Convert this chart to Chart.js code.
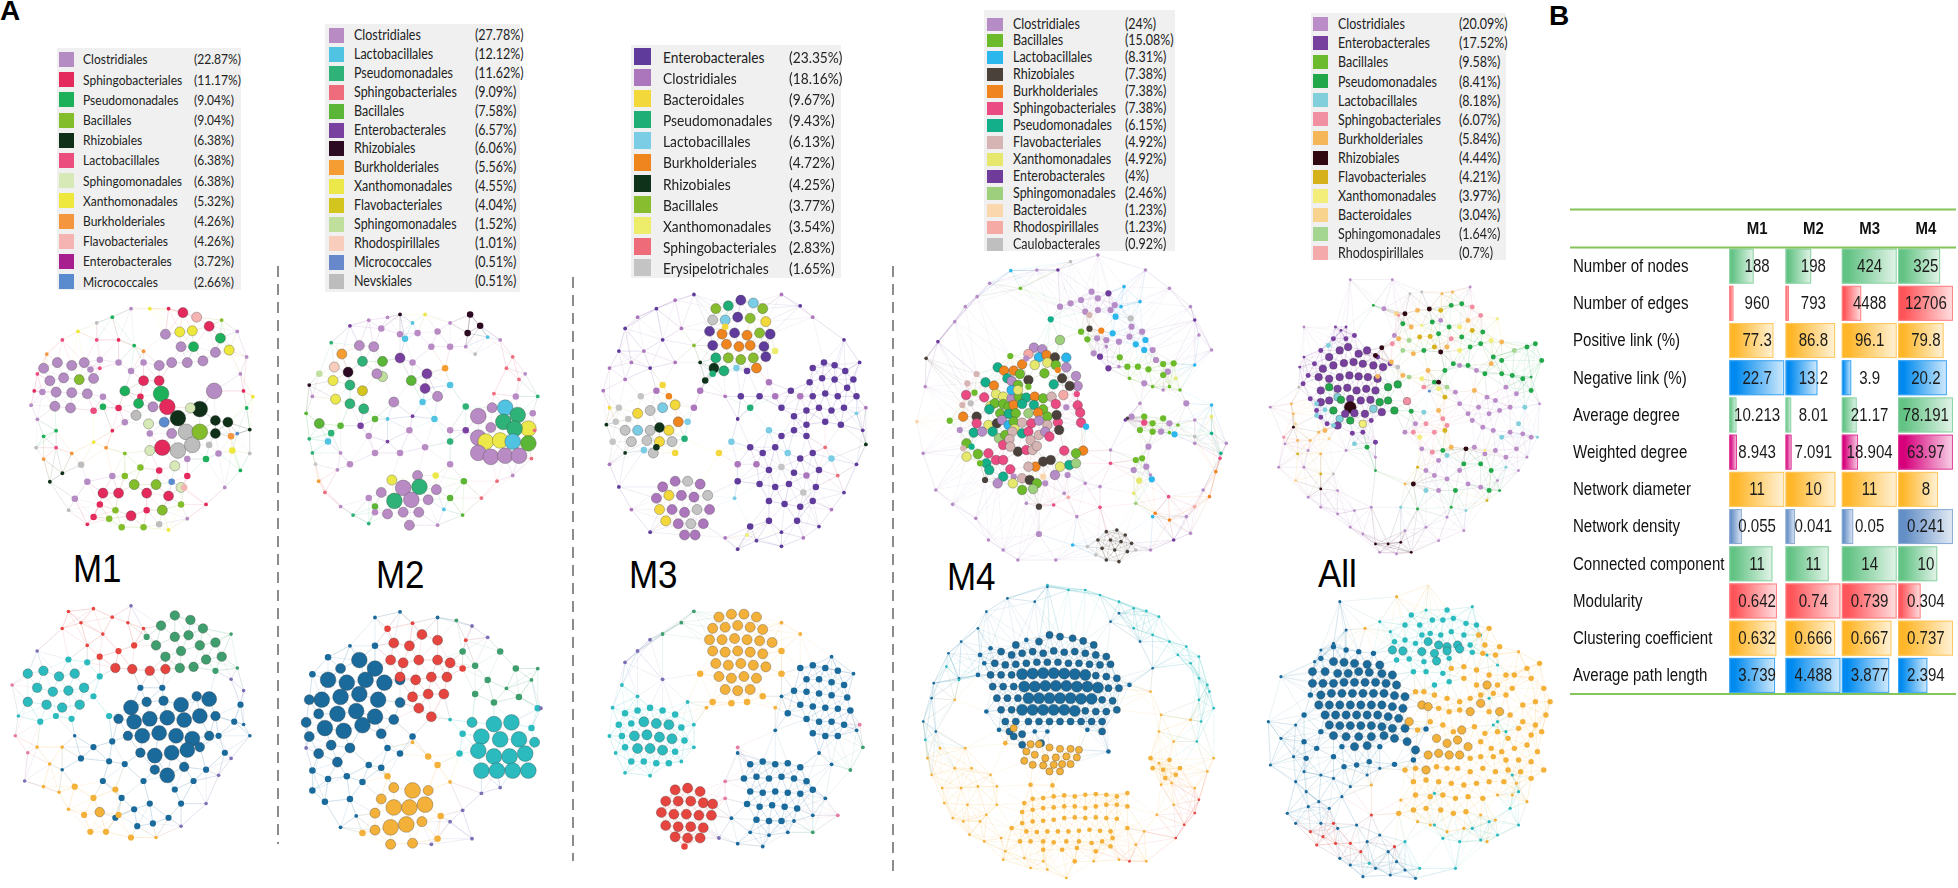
<!DOCTYPE html>
<html><head><meta charset="utf-8">
<script src="https://cdn.jsdelivr.net/npm/chart.js@4.4.1/dist/chart.umd.min.js"></script>
<style>
html,body{margin:0;padding:0;background:#fff;width:1958px;height:888px;overflow:hidden;position:relative;font-family:Lato,"Noto Sans",sans-serif;}
canvas{position:absolute;}
.lg{position:absolute;background:#F0F0F0;}
.sw{position:absolute;}
.tx{position:absolute;white-space:nowrap;color:#222;transform-origin:0 50%;transform:scaleX(0.86);}
.panel{position:absolute;font-family:"Liberation Sans",Arial,sans-serif;font-weight:bold;color:#000;font-size:28px;line-height:28px;}
.nlab{position:absolute;font-family:"Liberation Sans",Arial,sans-serif;color:#000;font-size:38px;line-height:38px;transform-origin:0 0;transform:scaleX(0.92);white-space:nowrap;}
.sep{position:absolute;width:1.5px;background:repeating-linear-gradient(to bottom,#8c8c8c 0 11px,transparent 11px 18px);}
</style></head><body>
<div class="panel" style="left:0px;top:-3px;">A</div>
<div class="panel" style="left:1549px;top:2px;">B</div>
<div class="sep" style="left:277px;top:266px;height:578px;"></div>
<div class="sep" style="left:572px;top:277px;height:584px;"></div>
<div class="sep" style="left:892px;top:266px;height:606px;"></div>
<div class="nlab" style="left:73px;top:550px;">M1</div>
<div class="nlab" style="left:376px;top:556px;">M2</div>
<div class="nlab" style="left:629px;top:556px;">M3</div>
<div class="nlab" style="left:947px;top:558px;">M4</div>
<div class="nlab" style="left:1318px;top:555px;">All</div>
<script>
// ---------------- DATA ----------------
const m1LegendNames=['Clostridiales','Sphingobacteriales','Pseudomonadales','Bacillales','Rhizobiales','Lactobacillales','Sphingomonadales','Xanthomonadales','Burkholderiales','Flavobacteriales','Enterobacterales','Micrococcales'];
const m1LegendPct=[22.87,11.17,9.04,9.04,6.38,6.38,6.38,5.32,4.26,4.26,3.72,2.66];
const m1LegendKeys=['C','S','P','B','R','L','M','X','K','F','E','I'];
const m2LegendNames=['Clostridiales','Lactobacillales','Pseudomonadales','Sphingobacteriales','Bacillales','Enterobacterales','Rhizobiales','Burkholderiales','Xanthomonadales','Flavobacteriales','Sphingomonadales','Rhodospirillales','Micrococcales','Nevskiales'];
const m2LegendPct=[27.78,12.12,11.62,9.09,7.58,6.57,6.06,5.56,4.55,4.04,1.52,1.01,0.51,0.51];
const m2LegendKeys=['C','L','P','S','B','E','R','K','X','F','M','H','I','N'];
const m3LegendNames=['Enterobacterales','Clostridiales','Bacteroidales','Pseudomonadales','Lactobacillales','Burkholderiales','Rhizobiales','Bacillales','Xanthomonadales','Sphingobacteriales','Erysipelotrichales'];
const m3LegendPct=[23.35,18.16,9.67,9.43,6.13,4.72,4.25,3.77,3.54,2.83,1.65];
const m3LegendKeys=['E','C','D','P','L','K','R','B','X','S','Y'];
const m4LegendNames=['Clostridiales','Bacillales','Lactobacillales','Rhizobiales','Burkholderiales','Sphingobacteriales','Pseudomonadales','Flavobacteriales','Xanthomonadales','Enterobacterales','Sphingomonadales','Bacteroidales','Rhodospirillales','Caulobacterales'];
const m4LegendPct=[24,15.08,8.31,7.38,7.38,7.38,6.15,4.92,4.92,4,2.46,1.23,1.23,0.92];
const m4LegendKeys=['C','B','L','R','K','S','P','F','X','E','M','D','H','G'];
const allLegendNames=['Clostridiales','Enterobacterales','Bacillales','Pseudomonadales','Lactobacillales','Sphingobacteriales','Burkholderiales','Rhizobiales','Flavobacteriales','Xanthomonadales','Bacteroidales','Sphingomonadales','Rhodospirillales'];
const allLegendPct=[20.09,17.52,9.58,8.41,8.18,6.07,5.84,4.44,4.21,3.97,3.04,1.64,0.7];
const allLegendKeys=['C','E','B','P','L','S','K','R','F','X','D','M','H'];

const metricNames=['Number of nodes','Number of edges','Positive link (%)','Negative link (%)','Average degree','Weighted degree','Network diameter','Network density','Connected component','Modularity','Clustering coefficient','Average path length'];
const tableCols=['M1','M2','M3','M4'];
const m1Metrics=[188,960,77.3,22.7,10.213,8.943,11,0.055,11,0.642,0.632,3.739];
const m2Metrics=[198,793,86.8,13.2,8.01,7.091,10,0.041,11,0.74,0.666,4.488];
const m3Metrics=[424,4488,96.1,3.9,21.17,18.904,11,0.05,14,0.739,0.667,3.877];
const m4Metrics=[325,12706,79.8,20.2,78.191,63.97,8,0.241,10,0.304,0.737,2.394];

// Network nodes: [group key, layout x, layout y, degree class]
const m1TopNodes=[
['S',293,552,3],['F',315,560,3],['S',335,576,3],['X',308,584,3],['X',288,586,3],['C',265,590,3],['P',310,612,3],['C',290,612,3],['P',353,597,3],['C',345,622,3],['X',367,618,3],['C',325,637,3],['C',300,640,3],['C',275,640,3],['C',255,645,3],['C',230,640,2],['C',210,655,2],['C',190,640,2],['S',230,672,3],['S',255,672,3],['P',200,690,3],
['C',70,650,3],['C',92,640,3],['C',115,645,3],['C',135,640,3],['C',80,672,3],['C',102,667,3],['B',127,670,3],['C',150,668,3],['C',90,692,3],['C',115,693,3],['C',140,695,3],['C',88,717,3],['C',113,720,3],['C',68,692,2],['C',165,700,2],['C',145,652,2],['C',160,635,2],
['C',343,690,4],['P',258,695,4],['C',245,718,3],['S',268,718,4],['R',285,738,4],['R',320,722,4],['M',305,720,3],['M',238,748,3],['I',263,745,3],['G',218,733,3],['G',298,762,4],['G',285,795,4],['G',308,785,4],['C',275,765,3],['S',260,790,4],['M',240,795,3],['R',345,742,3],['R',365,745,3],['R',345,765,3],['B',320,762,4],['C',240,765,2],['S',225,700,2],['P',222,712,3],['S',190,720,2],['P',165,718,2],['L',150,725,2],['C',200,745,2],['M',280,822,3],['C',300,810,2],['P',330,810,2],['C',350,800,2],['S',300,840,2],['X',372,795,2],['G',335,785,2],['K',370,770,2],['I',380,765,1],['R',400,758,1],['P',395,720,1],['S',390,690,1],['C',385,660,1],
['S',165,870,3],['S',190,870,3],['B',215,855,3],['S',235,870,3],['B',250,855,3],['S',270,875,3],['B',290,890,2],['B',260,900,3],['S',235,900,2],['S',210,910,3],['B',185,900,2],['S',160,890,2],['S',150,912,2],['B',175,915,2],['B',230,930,2],['G',255,925,2],['B',195,930,2],['C',120,880,2],['C',140,850,2],['B',200,840,2],['M',290,860,3],['I',275,850,2],['F',295,860,2],['S',255,830,2],['B',225,825,2],['C',180,840,2],['G',130,820,2],
['K',115,800,1],['L',90,790,1],['P',70,770,1],['C',60,740,1],['C',50,715,1],['S',55,690,1],['L',60,660,1],['K',75,625,1],['L',100,600,1],['X',125,585,1],['G',155,570,1],['P',180,560,1],['C',210,545,1],['X',240,545,1],['S',270,545,1],['B',355,565,1],['C',380,585,1],['C',395,630,1],['X',405,700,1],['G',400,800,1],['P',385,830,1],['C',360,860,1],['S',330,890,1],['C',300,915,1],['X',270,935,1],['S',140,925,1],['G',110,900,1],['R',80,850,1],['K',70,810,1],['G',58,790,1],['S',180,760,1],['K',170,790,1],['X',150,780,1],['B',200,800,1],['L',160,650,1],['S',190,600,1],['P',215,610,1],['K',230,620,1],['L',155,600,1],['R',100,835,1],['P',90,760,1]
];
const m2TopNodes=[
['K',547,625,3],['H',535,648,3],['R',557,657,3],['X',533,672,3],['M',511,660,2],['P',560,680,3],['F',580,690,3],['P',580,638,3],['B',612,638,3],['M',612,665,3],['X',537,705,3],['P',560,713,3],['P',582,722,3],['B',511,748,3],['P',530,765,2],['C',575,610,3],['C',598,612,3],['C',603,660,3],['E',640,632,3],['E',683,660,3],['C',660,640,2],['B',658,672,3],['E',680,686,3],['C',700,700,3],['C',630,710,3],['K',712,650,2],['C',690,612,2],['C',668,588,2],['C',640,590,2],['L',648,598,2],['C',610,580,2],['C',700,585,2],['C',720,612,2],['R',640,555,1],['R',752,555,2],['R',768,575,2],['R',748,588,2],['N',760,625,1],['C',745,612,1],['B',600,740,2],['E',577,752,2],['B',545,752,2],['L',676,710,2],['L',695,740,2],
['C',765,735,4],['C',787,720,3],['L',808,720,4],['P',828,733,4],['P',805,745,4],['C',785,755,3],['X',845,757,4],['P',823,757,4],['C',765,773,4],['X',777,780,4],['X',800,778,4],['L',820,780,4],['B',845,783,4],['C',765,800,4],['C',785,807,4],['C',808,805,4],['C',830,805,4],['C',825,700,2],['C',852,730,2],['P',745,718,2],['S',790,695,1],['S',830,670,1],['S',810,650,1],
['X',627,848,3],['C',645,862,4],['C',668,840,3],['P',671,860,4],['C',610,870,3],['C',630,883,3],['P',631,885,4],['C',658,883,4],['C',685,883,3],['C',620,908,3],['C',645,905,3],['C',670,905,3],['C',698,865,3],['C',590,880,2],['B',600,895,2],['C',655,928,3],['C',600,905,2],['X',697,840,2],['B',720,880,2],['B',742,850,2],['C',720,820,2],['L',710,900,1],
['C',560,820,2],['C',545,800,1],['L',525,780,2],['C',600,800,2],['C',640,800,2],['C',680,790,2],['P',720,780,2],['E',745,760,2],['C',720,760,2],['C',655,760,2],['E',620,780,1],['C',590,770,2],['C',540,830,1],['P',500,800,1],['G',505,820,1],['K',510,850,1],['S',520,870,1],['C',545,895,1],['P',565,910,1],['P',590,925,1],['C',700,928,1],['B',740,910,1],['S',770,880,1],['S',795,850,1],['C',820,840,1],['S',850,810,1],['S',855,760,1],['P',860,700,1],['C',840,660,1],['S',820,630,1],['C',800,600,1],['L',780,595,1],['C',720,570,1],['X',680,555,1],['L',660,570,1],['C',620,560,1],['C',590,565,1],['E',560,575,1],['P',530,605,1],['R',495,680,1],['C',500,700,1],['B',490,730,1],['P',495,775,1],['L',720,680,2],['L',620,740,1],['E',660,735,1]
];
const m3TopNodes=[
['B',1145,545,3],['P',1165,540,3],['E',1185,530,3],['L',1205,535,3],['B',1220,545,3],['Y',1140,565,3],['L',1160,565,3],['E',1180,560,3],['B',1200,562,3],['D',1225,568,3],['E',1135,585,3],['K',1155,590,3],['E',1175,588,3],['K',1195,592,3],['B',1215,588,3],['E',1232,590,3],['E',1140,610,3],['K',1162,608,3],['K',1182,612,3],['K',1200,610,3],['E',1222,612,3],['P',1145,632,3],['B',1165,632,3],['B',1185,635,3],['B',1205,632,3],['E',1225,630,3],['R',1142,650,3],['P',1158,655,3],['K',1210,650,3],['E',1195,655,2],['L',1178,650,2],['D',1160,577,2],['X',1240,620,2],
['E',1300,650,2],['E',1318,640,2],['E',1335,645,2],['E',1352,655,2],['E',1365,670,2],['E',1295,675,2],['E',1315,668,2],['E',1335,670,2],['E',1355,685,2],['E',1370,700,2],['E',1300,700,2],['E',1320,695,2],['E',1340,700,2],['E',1310,720,2],['E',1330,725,2],['E',1350,720,2],['E',1290,725,2],['C',1280,700,2],['E',1320,745,2],['E',1345,750,2],['E',1290,750,2],['L',1370,730,1],
['E',1200,790,2],['E',1220,800,2],['E',1240,790,2],['L',1260,800,2],['E',1280,810,2],['E',1300,800,2],['C',1210,820,2],['E',1230,830,2],['Y',1250,825,2],['E',1270,835,2],['C',1290,840,2],['E',1310,830,2],['E',1215,855,2],['E',1240,860,2],['E',1262,855,2],['Y',1285,870,2],['E',1305,860,2],['E',1230,885,2],['E',1255,890,2],['E',1280,895,2],['E',1300,885,2],['L',1330,810,2],['S',1320,790,1],['E',1200,930,2],['E',1230,920,2],['E',1250,940,1],['E',1210,955,1],['X',1195,945,1],['E',1275,920,2],['L',1175,880,1],['E',1180,850,2],['C',1180,820,2],['L',1230,760,2],['E',1250,770,2],['E',1270,760,2],['E',1290,770,2],['S',1340,840,1],
['C',1240,700,2],['E',1250,720,2],['E',1265,690,2],['C',1230,675,2],['E',1270,735,2],['P',1200,720,2],['E',1215,700,2],['E',1185,700,2],['L',1170,780,2],['D',1150,800,2],['C',1120,690,2],['C',1110,720,2],['P',1140,660,2],['R',1128,672,2],
['Y',990,720,2],['Y',1005,740,2],['D',1020,730,3],['Y',1040,725,3],['L',1060,720,3],['D',1080,715,3],['K',1070,700,2],['Y',1000,760,3],['L',1020,760,3],['Y',1040,760,3],['R',1055,755,3],['D',1070,760,3],['K',1085,745,3],['Y',1010,780,3],['Y',1035,778,3],['D',1055,780,3],['Y',1075,780,3],['Y',1045,800,3],['L',1030,795,2],['R',1050,790,2],['D',1080,800,2],['P',1095,775,2],['L',1100,745,2],['Y',1025,700,2],['C',1050,690,2],['D',1060,680,2],['Y',985,745,2],['R',970,750,1],['Y',980,780,2],['D',975,720,1],['R',1000,800,1],
['C',1060,860,3],['C',1080,850,3],['Y',1100,850,3],['C',1120,855,3],['C',1050,880,3],['D',1070,875,3],['C',1090,875,3],['C',1110,878,3],['Y',1132,875,3],['D',1055,900,3],['C',1075,900,3],['C',1095,905,3],['Y',1115,900,3],['C',1135,900,3],['D',1065,920,3],['C',1085,925,3],['Y',1105,925,3],['C',1125,925,3],['C',1095,945,3],['C',1112,945,3],
['E',1000,580,1],['C',1020,560,1],['E',1050,545,1],['C',1080,530,1],['E',1110,520,1],['C',1250,520,1],['E',1280,540,1],['C',1300,560,1],['E',1350,600,1],['E',1375,640,1],['C',1385,720,1],['E',1380,760,1],['R',1385,785,1],['E',1370,820,1],['E',1350,870,1],['C',1330,900,1],['E',1310,930,1],['C',1285,950,1],['E',1250,965,1],['E',1180,970,1],['C',1160,950,1],['E',1040,940,1],['C',1010,900,1],['E',990,860,1],['C',975,820,1],['C',965,690,1],['C',975,650,1],['E',990,620,1],['C',1010,640,1],['C',1030,620,1],['E',1060,600,1],['C',1090,580,1],['B',1110,610,1],['C',1000,670,1],['E',1040,650,1],['C',1080,640,1],['R',1120,640,1],['C',1160,700,1],['E',1180,740,1]
];
const m4TopNodes=[
['C',318,293,3],['C',338,298,3],['H',305,312,3],['L',330,322,3],['K',348,315,3],['R',368,322,3],['L',395,323,3],['K',290,343,3],['X',320,345,3],['X',350,338,3],['B',370,345,3],['M',380,270,3],['B',262,318,2],['P',232,352,3],['K',247,362,3],['K',270,362,3],['P',255,385,3],['B',285,372,3],['B',343,370,3],['K',375,360,2],['R',385,385,3],['C',395,352,3],['C',418,378,3],['C',422,408,3],['R',403,408,3],['P',365,403,3],['H',388,435,3],['R',305,390,3],['B',305,410,2],
['F',182,372,2],['P',203,397,3],['K',223,407,3],['C',265,393,3],['B',280,405,3],['F',160,400,2],['B',177,428,2],['X',228,432,3],['S',157,435,3],['F',148,465,2],['K',150,500,3],['S',200,442,3],['X',245,440,3],['C',265,445,3],['B',282,440,3],['L',265,420,3],['X',280,420,3],['P',300,443,3],['K',320,440,3],['B',340,445,3],['F',360,440,3],['X',215,468,3],['B',225,460,3],['P',212,478,3],['B',245,462,3],['B',258,470,3],['K',270,465,3],['P',290,462,3],['P',318,465,3],['B',340,478,3],['B',350,500,3],['S',370,462,3],['K',328,488,3],['R',182,500,3],['B',238,490,3],['P',258,492,3],['B',275,490,3],['M',305,490,3],['X',210,525,3],['R',230,520,3],['C',242,510,3],['P',220,545,3],['L',258,525,3],['B',270,515,3],['X',272,537,3],['F',290,518,3],['S',312,520,3],['C',330,512,3],['F',350,525,3],['S',375,517,3],['R',378,540,3],['R',372,495,3],['P',175,548,3],['S',182,520,3],['C',195,545,3],['M',235,565,3],['B',250,555,3],['F',267,545,3],['S',245,585,3],['F',260,568,3],['P',290,550,3],['S',305,545,3],['F',310,570,3],['F',330,555,3],['C',345,545,3],['S',355,560,3],['R',280,605,3],['S',300,600,3],['F',315,600,3],['F',325,588,3],['X',158,620,3],['B',185,612,3],['S',210,610,3],['S',228,630,3],['S',245,630,3],['F',262,590,3],['P',205,640,3],['B',190,640,2],['P',212,660,3],['S',262,658,3],['P',245,680,3],['C',270,680,2],['F',290,685,3],['R',308,690,3],['B',325,700,3],['C',345,700,2],['D',340,680,2],['K',322,650,3],['F',305,650,3],['R',340,635,3],['R',358,630,3],['S',390,602,3],['K',435,602,3],['B',418,610,3],['P',402,645,3],['M',418,640,3],['X',380,650,3],['C',398,675,2],['C',368,675,3],['X',268,700,3],['M',316,717,3],['B',290,720,3],['C',232,700,3],['R',202,690,2],['B',158,580,3],['F',150,595,2],['P',170,590,2],['B',118,512,2],['G',168,460,2],['C',142,540,2],['S',420,432,2],['S',430,518,3],['L',442,530,2],['S',422,466,3],['S',428,488,3],['C',395,472,2],['C',300,325,2],
['C',380,170,2],['C',405,160,2],['C',430,150,2],['C',455,125,2],['C',470,145,2],['E',495,130,2],['C',510,165,2],['L',525,170,1],['L',532,110,1],['L',570,155,1],['C',440,185,2],['C',470,180,2],['C',500,180,2],['F',450,195,2],['L',512,200,2],['G',548,205,2],['C',550,230,2],['C',575,245,2],['P',358,208,2],['B',430,245,2],['R',450,236,2],['K',478,242,2],['C',468,265,2],['C',490,270,2],['L',505,250,2],['C',520,275,2],['C',545,260,2],['L',560,283,2],['L',583,270,2],['C',600,300,2],['L',580,300,2],['C',460,310,2],['B',445,268,2],['C',490,290,1],['E',475,320,2],['B',522,322,2],['B',540,350,2],['B',565,350,2],['B',590,358,2],['C',608,330,2],['B',625,342,2],['B',650,340,2],['C',636,365,2],['B',625,375,2],['C',520,350,1],['E',495,355,2],['B',545,385,1],['C',580,400,2],['B',600,410,1],['C',625,420,1],['B',640,410,1],['B',665,420,1],['C',570,460,1],['B',580,500,2],['B',600,520,2],['B',625,505,2],['B',600,545,2],['C',620,545,2],['B',640,548,1],['L',652,553,2],['B',660,525,1],['C',680,460,2],['X',655,385,1],['C',550,500,2],['S',580,518,2],['B',570,540,2],['C',590,590,2],['B',560,630,2],['C',585,650,2],['B',575,625,2],['C',555,660,2],['C',595,675,1],['L',598,688,2],['X',568,692,2],['C',640,520,2],['R',540,505,1],['C',700,510,1],['C',700,580,1],['L',740,465,1],['C',740,300,1],['C',710,255,1],['E',700,210,1],['C',640,115,1],['C',583,60,1],['C',690,170,1],['L',700,345,1],['X',740,500,1],
['R',490,845,1],['R',515,840,1],['R',535,855,1],['R',470,870,1],['R',500,870,1],['R',525,875,1],['R',550,880,1],['R',480,895,1],['R',510,900,1],['R',540,905,1],['G',560,900,1],['R',490,930,1],['R',520,935,1],['G',465,915,1],['G',445,890,1],
['C',325,60,1],['G',405,35,1],['C',470,15,1],['L',263,62,1],['E',375,60,1],['C',213,100,1],['C',183,140,1],['B',286,115,1],['C',155,170,1],['C',130,215,1],['E',90,275,1],['R',62,325,1],['C',60,410,1],['D',40,515,1],['C',55,610,1],['C',85,720,1],['C',125,763,1],['C',180,805,1],['C',210,870,1],['C',245,900,1],['C',280,930,1],['C',330,852,2],['R',330,770,2],['S',365,765,1],['C',390,730,1],['H',400,742,1],['S',475,772,1],['C',420,800,1],['C',300,760,1],['L',410,885,1],['C',370,930,1],['C',595,900,1],['E',650,870,1],['C',690,850,1],['K',640,810,1],['C',680,800,1],['K',735,740,1],['H',700,770,1],['K',750,665,1],['C',720,720,1],['L',600,800,1],['M',560,760,1],['S',638,740,1],['X',555,730,1],['K',606,790,1],['P',740,550,1],['S',760,625,1],['C',775,580,1],['G',700,560,1],['P',762,610,1],['C',440,700,1],['C',475,710,1],['S',500,640,1],['C',500,600,1],['E',535,510,1]
];
const allTopNodes=[
['E',1030,265,2],['E',1048,240,1],['E',1060,265,2],['E',1080,255,2],['L',1018,285,2],['E',1000,300,2],['E',1020,320,3],['E',1045,300,3],['E',1065,290,3],['E',1090,310,3],['E',1110,300,3],['E',1135,320,2],['R',1145,292,2],['R',1130,315,2],['E',985,340,2],['E',1005,355,3],['E',1030,345,3],['E',1055,338,3],['E',1078,335,3],['E',1100,340,3],['E',1125,345,3],['E',1148,350,3],['E',1165,340,2],['K',1168,335,2],['E',970,375,2],['E',995,380,3],['E',1020,385,3],['E',1045,380,3],['E',1068,375,3],['E',1090,378,3],['E',1112,380,3],['E',1135,385,3],['K',1135,378,2],['P',1160,410,3],['P',1183,402,3],['P',1020,410,3],['E',1000,420,3],['E',1040,415,3],['E',1063,412,3],['E',1085,420,3],['E',1108,415,3],['E',1130,420,3],['L',1040,440,3],['E',975,445,2],['E',1000,455,3],['E',1020,450,3],['P',1048,448,3],['E',1070,445,3],['E',1095,450,3],['E',1118,448,3],['P',1140,455,3],['P',1160,450,3],['P',1175,480,3],['S',1205,452,3],['P',1215,482,2],['R',1070,470,4],['E',990,480,2],['L',1010,478,2],['P',1030,480,3],['L',1045,505,3],['E',1058,490,3],['E',1080,488,3],['E',1105,490,3],['L',1125,475,3],['E',1145,485,3],['P',1070,510,3],['E',1040,525,3],['X',1100,520,3],['E',1015,520,2],['E',1120,510,2],['E',1100,545,2],['E',1075,548,2],['E',1000,500,2],['E',960,320,1],['E',950,350,1],['E',958,400,2],['L',990,495,2],['L',1030,525,2],['E',1130,575,2],['L',1080,580,2],['P',1110,590,2],['E',1060,230,1],['E',1035,230,1],
['P',1125,165,1],['C',1150,175,2],['D',1180,190,2],['R',1200,190,2],['K',1230,180,2],['R',1258,176,2],['F',1285,180,2],['P',1310,165,2],['P',1335,160,2],['S',1360,170,2],['G',1212,130,1],['G',1240,125,1],['K',1288,130,1],['K',1313,125,1],['P',1195,220,2],['S',1185,195,1],['K',1215,230,2],['X',1240,225,1],['P',1265,215,2],['C',1285,210,2],['P',1305,230,2],['X',1330,230,2],['K',1350,210,2],['S',1380,195,2],['X',1420,205,1],['C',1175,255,2],['S',1170,280,2],['K',1185,265,2],['M',1210,270,2],['F',1235,260,2],['F',1260,258,2],['P',1280,250,2],['S',1310,265,2],['P',1335,260,2],['F',1360,240,2],['P',1385,245,2],['X',1405,270,2],['K',1430,275,2],['M',1195,300,2],['K',1220,310,2],['P',1245,300,2],['F',1270,290,2],['R',1285,305,2],['K',1300,290,2],['X',1330,300,2],['P',1355,290,2],['P',1380,280,2],['P',1410,320,2],['P',1430,330,2],['M',1460,300,2],['P',1490,290,2],['P',1510,280,2],['P',1525,330,2],['G',1183,350,2],['K',1195,375,2],['M',1210,380,2],['X',1240,385,2],['K',1255,360,2],['P',1270,395,2],['R',1280,395,2],['P',1295,360,2],['P',1315,340,2],['C',1330,345,2],['P',1350,345,2],['C',1370,360,2],['P',1390,370,2],['K',1405,340,2],['P',1430,370,2],['P',1455,375,2],['P',1480,385,2],['P',1500,380,1],['I',1258,422,1],['S',1245,410,2],['X',1280,415,2],['M',1300,410,2],['F',1295,440,2],['C',1320,425,2],['K',1365,420,2],['C',1395,440,2],['C',1415,450,2],['C',1440,410,2],['C',1465,430,2],['L',1485,470,2],['P',1500,420,2],['C',1520,460,1],['L',1245,485,2],['K',1280,480,2],['S',1290,505,2],['S',1250,520,2],['S',1270,545,2],['F',1295,540,2],['S',1300,525,2],['C',1225,520,2],['C',1200,545,2],['S',1220,545,2],['X',1235,560,2],['C',1330,460,2],['C',1350,490,2],['C',1375,470,2],['C',1400,490,2],['C',1425,480,2],['C',1450,470,2],['L',1470,520,2],['C',1360,510,2],['C',1385,530,2],['C',1410,540,2],['L',1430,560,2],['C',1450,545,2],['C',1480,550,2],['C',1500,560,2],['L',1515,560,1],['C',1240,595,2],['S',1265,605,2],['P',1290,600,2],['K',1310,590,2],['R',1345,595,2],['C',1365,590,2],['C',1390,610,2],['C',1415,600,2],['C',1440,620,2],['C',1465,595,2],['P',1340,640,2],['P',1380,640,2],['P',1405,660,2],['C',1280,630,2],['L',1300,615,2],['F',1230,650,1],['C',1250,660,2],['C',1270,675,2],['C',1300,685,2],['C',1330,660,2],['C',1350,700,2],['C',1280,720,2],['L',1250,720,2],['P',1320,720,2],['C',1380,710,2],['P',1400,720,2],['R',1220,700,2],['K',1200,700,1],['P',1230,775,1],['L',1190,770,1],['P',1310,770,1],['L',1345,780,1],['C',1420,690,1],['L',1440,650,1],['C',1470,660,1],['C',1490,620,1],['F',1395,750,1],['P',1425,720,1],
['K',935,490,1],['K',930,460,1],['D',940,520,1],['R',935,530,1],['S',912,560,1],['K',945,570,1],['F',945,610,1],['K',975,570,1],['C',970,600,1],['K',995,545,1],['D',1020,565,1],['G',1030,670,1],['K',1000,610,1],['C',1060,600,1],['F',1000,670,1],['D',940,690,1],['R',1000,715,1],['C',1040,720,1],['C',970,740,1],['C',1000,770,1],['C',1040,790,1],['C',1080,780,1],['C',1120,770,1],['C',1070,830,1],['R',1130,880,1],['R',1160,880,1],['R',1190,875,1],['R',1215,905,1],['C',1140,905,1],['C',1180,910,1],['C',1100,850,1],['C',960,650,1],['C',880,470,1],['C',900,650,1],['C',915,580,1],['C',960,230,1],['G',948,410,1],['L',990,460,2],['K',1010,540,2],['P',1130,660,1],['C',1130,620,1],['C',1070,88,1],['C',1170,88,1],['C',1355,110,1],['X',1390,600,1],['C',1300,800,1],['C',1340,840,1],['C',1250,830,1],['C',1280,870,1],['C',1200,840,1]
];
const m1BotNodes=[
['N',280,1087,3],['N',305,1095,3],['N',258,1105,3],['N',325,1110,3],['N',280,1125,3],['N',302,1122,3],['N',345,1135,3],['N',320,1140,3],['N',250,1140,3],['N',290,1150,3],['N',355,1160,3],['N',330,1165,3],['N',310,1178,3],['N',288,1180,3],['N',265,1160,3],['N',345,1185,2],['N',235,1125,2],
['D',185,1180,3],['D',212,1182,3],['D',240,1185,3],['D',265,1182,3],['D',190,1150,2],['D',215,1140,2],['D',160,1160,2],['D',230,1110,1],['D',205,1100,1],['D',180,1090,1],['D',165,1120,1],['D',130,1100,1],['D',140,1140,1],
['T',45,1190,3],['T',70,1185,3],['T',95,1195,3],['T',120,1190,3],['T',60,1215,3],['T',85,1222,3],['T',110,1220,3],['T',135,1215,3],['T',45,1240,3],['T',75,1245,3],['T',100,1250,3],['T',128,1245,3],['T',90,1265,2],['T',115,1270,2],['T',150,1230,2],['T',160,1195,2],['T',110,1165,2],['T',140,1170,2],['T',30,1265,1],['T',65,1275,2],['T',175,1265,2],
['U',210,1250,4],['U',235,1240,3],['U',262,1238,3],['U',290,1245,4],['U',315,1230,3],['U',335,1235,4],['U',190,1270,3],['U',215,1275,4],['U',240,1270,4],['U',268,1268,4],['U',295,1272,4],['U',320,1265,4],['U',345,1265,3],['U',205,1300,3],['U',228,1300,4],['U',255,1295,4],['U',282,1300,4],['U',308,1305,4],['U',335,1300,3],['U',225,1330,3],['U',248,1335,4],['U',275,1330,4],['U',300,1325,4],['U',320,1320,3],['U',248,1360,3],['U',268,1370,4],['U',295,1355,3],['U',350,1300,2],['U',360,1330,2],['U',375,1275,2],['U',385,1245,2],['U',260,1215,2],['U',225,1215,2],['U',180,1310,2],['U',200,1350,2],['U',230,1380,2],['U',280,1395,2],['U',310,1380,2],['U',330,1360,2],['U',175,1345,2],['U',150,1320,2],['U',130,1340,2],['U',165,1380,2],['U',195,1410,2],['U',215,1430,2],['U',240,1420,2],['U',220,1460,2],['U',245,1455,2],['U',270,1445,2],['U',290,1420,2],['U',185,1445,2],['U',120,1300,1],['U',100,1360,1],['U',390,1280,1],['U',400,1300,1],
['O',120,1390,2],['O',150,1410,2],['O',185,1395,2],['O',160,1435,3],['O',135,1440,2],['O',190,1440,2],['O',170,1470,2],['O',145,1470,2],['O',210,1480,2],['O',110,1430,1],['O',95,1400,1],['O',80,1350,1],['O',100,1320,1],['O',60,1320,1],['O',70,1390,1],
['V',370,1340,1],['V',350,1370,1],['V',390,1220,1],['V',370,1200,1],['W',20,1210,1],['W',25,1300,1],['W',45,1330,1],['V',40,1380,1],['N',380,1180,1],['N',370,1120,1],['D',100,1110,1],['V',330,1420,1],['V',290,1460,1],['O',250,1480,1],['V',60,1150,1],['D',110,1080,1],['D',150,1075,1],['V',210,1070,1]
];
const m2BotNodes=[
['U',575,1165,4],['U',545,1180,3],['U',600,1180,4],['U',525,1200,4],['U',555,1205,4],['U',585,1200,4],['U',615,1205,4],['U',640,1200,3],['U',515,1235,4],['U',545,1230,4],['U',575,1225,4],['U',605,1235,4],['U',510,1260,3],['U',540,1260,4],['U',570,1255,4],['U',600,1265,4],['U',520,1285,4],['U',550,1290,4],['U',580,1280,4],['U',610,1295,3],['U',530,1315,3],['U',560,1320,3],['U',495,1300,3],['U',510,1330,3],['U',540,1345,3],['U',490,1275,3],['U',495,1235,3],['U',640,1240,3],['U',630,1270,3],['U',620,1320,2],['U',500,1360,2],['U',525,1375,2],['U',555,1370,2],['U',580,1380,2],['U',610,1355,2],['U',500,1395,2],['U',520,1415,2],['U',560,1410,2],['U',590,1350,2],['U',640,1330,2],['U',660,1300,2],['U',500,1190,2],['U',525,1160,2],['U',600,1140,2],['U',560,1140,1],
['D',630,1135,3],['D',655,1140,3],['D',675,1120,3],['D',700,1130,3],['D',625,1165,3],['D',645,1170,3],['D',670,1165,3],['D',700,1165,3],['D',720,1170,3],['D',640,1195,3],['D',665,1200,3],['D',690,1195,3],['D',715,1195,3],['D',660,1230,3],['D',685,1225,3],['D',710,1225,3],['D',670,1250,3],['D',690,1265,3],['D',620,1110,2],['D',660,1100,1],['D',745,1130,1],['D',740,1180,2],
['T',755,1275,3],['T',790,1278,4],['T',818,1275,4],['T',850,1285,2],['T',770,1300,4],['T',800,1305,4],['T',830,1305,4],['T',855,1310,3],['T',765,1325,4],['T',790,1335,4],['T',815,1335,4],['T',840,1330,4],['T',770,1360,4],['T',795,1360,4],['T',820,1360,4],['T',845,1360,4],['T',740,1295,2],['T',735,1330,2],['T',860,1250,2],['T',720,1270,1],
['O',630,1390,3],['O',610,1410,3],['O',660,1395,4],['O',685,1395,3],['O',600,1435,3],['O',630,1425,4],['O',655,1425,4],['O',680,1420,4],['O',600,1465,3],['O',625,1460,4],['O',650,1455,4],['O',675,1450,3],['O',625,1490,3],['O',660,1488,3],['O',700,1480,2],['O',705,1440,2],['O',700,1350,2],['O',685,1335,2],['O',660,1310,1],['O',720,1380,1],['O',580,1470,2],['O',620,1370,2],
['N',800,1150,2],['N',825,1180,2],['N',850,1200,1],['N',780,1200,2],['N',760,1225,2],['N',790,1240,2],['N',830,1230,2],['N',760,1175,2],['N',740,1150,2],['N',810,1215,1],
['V',755,1105,1],['V',780,1125,1],['V',770,1400,1],['V',800,1390,1],['V',740,1430,1],['V',755,1480,1],['V',720,1450,1],['V',690,1490,1],['U',545,1460,1],['U',570,1440,1],['V',490,1320,1],['U',600,1090,1],['U',640,1080,1],['U',700,1090,1],['N',730,1095,1],['N',860,1180,1],['V',865,1250,1]
];
const m3BotNodes=[
['O',1150,1090,3],['O',1170,1085,3],['O',1190,1085,3],['O',1210,1090,3],['O',1140,1110,3],['O',1160,1108,3],['O',1180,1105,3],['O',1200,1108,3],['O',1220,1112,3],['O',1135,1130,3],['O',1155,1130,3],['O',1175,1128,3],['O',1195,1130,3],['O',1215,1132,3],['O',1235,1135,3],['O',1140,1150,3],['O',1160,1152,3],['O',1180,1150,3],['O',1200,1152,3],['O',1220,1155,3],['O',1145,1172,3],['O',1165,1175,3],['O',1185,1172,3],['O',1205,1175,3],['O',1225,1178,3],['O',1150,1195,3],['O',1170,1198,3],['O',1190,1195,3],['O',1210,1198,3],['O',1160,1218,3],['O',1180,1220,3],['O',1200,1218,3],['O',1140,1240,2],['O',1170,1242,2],['O',1195,1240,2],['O',1220,1230,2],['O',1250,1150,2],['O',1250,1190,2],['O',1120,1190,2],['O',1130,1250,1],['O',1240,1250,1],
['T',1000,1260,2],['T',1020,1255,2],['T',1040,1250,2],['T',1060,1255,2],['T',1080,1262,2],['T',990,1280,2],['T',1010,1278,2],['T',1030,1275,3],['T',1050,1278,3],['T',1070,1280,3],['T',1090,1285,2],['T',995,1300,2],['T',1015,1300,3],['T',1035,1298,3],['T',1055,1302,3],['T',1075,1305,3],['T',1095,1308,2],['T',1000,1320,2],['T',1020,1322,3],['T',1040,1322,3],['T',1060,1325,3],['T',1080,1328,2],['T',1010,1345,2],['T',1030,1345,2],['T',1050,1348,2],['T',1070,1348,2],['T',1090,1345,1],['T',985,1330,1],['T',975,1300,1],['T',980,1250,1],['T',1020,1230,1],['T',1100,1240,1],['T',1110,1280,1],['T',1040,1370,1],['T',1000,1365,1],['T',1110,1320,1],
['D',1080,1395,3],['D',1100,1392,3],['D',1120,1398,3],['D',1065,1415,3],['D',1085,1415,3],['D',1105,1415,3],['D',1125,1418,3],['D',1140,1420,3],['D',1058,1435,3],['D',1078,1438,3],['D',1098,1438,3],['D',1118,1440,3],['D',1138,1440,3],['D',1065,1458,3],['D',1085,1460,3],['D',1105,1460,3],['D',1125,1462,3],['D',1080,1478,3],['D',1100,1480,3],['D',1120,1480,3],['D',1095,1495,2],
['U',1280,1180,2],['U',1300,1175,2],['U',1320,1180,2],['U',1340,1185,2],['U',1290,1200,2],['U',1310,1200,2],['U',1330,1205,2],['U',1350,1210,2],['U',1270,1220,2],['U',1290,1222,2],['U',1310,1225,2],['U',1330,1228,2],['U',1355,1232,2],['U',1280,1245,2],['U',1300,1248,2],['U',1320,1250,2],['U',1340,1252,2],['U',1360,1255,2],['U',1290,1270,2],['U',1310,1275,2],['U',1330,1275,2],['U',1350,1280,2],['U',1300,1295,2],['U',1320,1300,2],['U',1340,1300,2],['U',1260,1260,2],['U',1250,1230,1],['U',1240,1290,1],['U',1365,1190,1],['U',1370,1290,1],['U',1330,1160,1],
['U',1200,1350,2],['U',1220,1345,2],['U',1240,1350,2],['U',1260,1348,2],['U',1280,1355,2],['U',1190,1375,2],['U',1210,1372,2],['U',1230,1375,2],['U',1250,1372,2],['U',1270,1375,2],['U',1290,1380,2],['U',1200,1398,2],['U',1220,1400,2],['U',1240,1398,2],['U',1260,1400,2],['U',1280,1402,2],['U',1300,1395,2],['U',1195,1420,2],['U',1215,1425,2],['U',1235,1422,2],['U',1255,1425,2],['U',1275,1428,2],['U',1210,1448,2],['U',1230,1450,2],['U',1250,1450,2],['U',1270,1450,1],['U',1200,1470,1],['U',1230,1475,1],['U',1260,1470,1],['U',1180,1490,1],['U',1220,1495,1],['U',1300,1440,1],['U',1320,1410,1],['U',1180,1330,1],['U',1310,1330,1],['U',1330,1350,1],['U',1170,1445,1],
['V',1020,1150,1],['V',1040,1130,1],['V',1000,1170,1],['N',1090,1100,1],['N',1060,1120,1],['V',1060,1200,1],['N',1110,1080,1],['T',995,1210,1],['W',1375,1280,1],['W',1180,1320,1],['W',1160,1380,1],['N',1380,1320,1],['N',1360,1360,1],['W',1340,1440,1],['N',1300,1470,1],['O',1250,1100,1],['O',1280,1120,1],['V',1150,1480,1],['W',1160,1410,1]
];
const m4BotNodes=[
['U',275,210,3],['U',300,195,2],['U',330,200,3],['U',355,180,3],['U',380,185,3],['U',410,190,3],['U',435,198,3],['U',460,210,3],
['U',240,230,3],['U',265,240,3],['U',290,235,3],['U',315,230,3],['U',340,235,3],['U',365,228,3],['U',390,232,3],['U',415,230,3],['U',440,235,3],['U',465,240,3],['U',490,245,3],
['U',225,265,3],['U',250,270,3],['U',275,268,3],['U',300,265,3],['U',325,262,3],['U',350,262,3],['U',375,262,3],['U',400,265,3],['U',425,265,3],['U',450,268,3],['U',475,270,3],['U',500,268,3],
['U',215,300,3],['U',240,300,3],['U',265,300,3],['U',290,298,4],['U',315,296,4],['U',340,295,4],['U',365,295,4],['U',390,296,4],['U',415,298,4],['U',440,300,4],['U',465,302,3],['U',490,305,3],['U',515,310,3],
['U',220,335,3],['U',245,335,3],['U',270,335,3],['U',295,335,4],['U',320,335,4],['U',345,333,4],['U',370,333,4],['U',395,333,4],['U',420,335,4],['U',445,335,4],['U',470,338,4],['U',495,340,3],['U',520,340,3],
['U',230,370,3],['U',255,370,3],['U',280,370,3],['U',305,370,4],['U',330,370,4],['U',355,370,4],['U',380,370,4],['U',405,370,4],['U',430,372,4],['U',455,372,4],['U',480,375,3],['U',505,378,3],
['U',240,405,3],['U',265,405,3],['U',290,405,4],['U',315,405,4],['U',340,405,4],['U',365,405,4],['U',390,405,4],['U',415,408,4],['U',440,408,3],['U',465,410,3],['U',490,410,3],['U',515,405,3],
['U',250,440,3],['U',275,440,3],['U',305,440,3],['U',330,440,3],['U',355,440,3],['U',380,440,3],['U',405,440,3],['U',430,440,3],['U',455,440,3],['U',480,440,3],
['U',260,470,3],['U',290,478,3],['U',320,470,2],['U',350,470,2],['U',445,465,2],['U',480,470,3],['U',270,485,3],['U',290,510,3],['U',335,505,3],['U',495,530,2],
['U',200,265,2],['U',185,300,2],['U',205,410,2],['U',190,240,2],['U',215,220,2],['U',545,330,2],['U',235,465,2],['U',185,160,1],['U',145,200,1],['U',205,110,1],['U',255,70,1],['U',320,80,1],['U',350,35,1],['U',115,235,1],['U',80,325,1],['U',75,370,1],['U',55,440,1],['U',85,470,1],['U',140,310,1],['U',500,140,1],['U',520,115,1],['U',570,200,1],['U',600,280,1],
['O',270,460,3],['O',250,505,2],['O',310,508,3],['O',330,508,3],['O',355,518,3],['O',380,522,3],['O',405,522,3],['O',425,525,3],['O',300,530,3],['O',320,540,3],['O',345,550,3],['O',370,548,3],['O',395,545,3],['O',420,548,3],['O',295,558,3],['O',315,570,3],['O',340,572,3],['O',365,570,3],['O',385,568,3],['O',405,568,3],['O',355,590,3],['O',380,590,3],['O',310,630,2],['O',362,632,2],
['O',295,685,2],['O',315,672,2],['O',340,670,2],['O',365,665,2],['O',390,662,2],['O',415,665,2],['O',440,660,2],['O',465,658,2],['O',490,660,2],['O',515,665,2],['O',540,655,2],
['O',290,712,2],['O',315,705,2],['O',340,700,2],['O',365,698,2],['O',390,695,2],['O',415,695,2],['O',440,700,2],['O',465,695,2],['O',490,690,2],['O',515,690,2],['O',540,695,2],
['O',290,745,2],['O',315,740,2],['O',340,738,2],['O',365,735,2],['O',390,730,2],['O',415,728,2],['O',440,730,2],['O',465,728,2],['O',490,730,2],['O',515,732,2],['O',540,760,2],
['O',265,760,2],['O',300,770,2],['O',325,772,2],['O',350,770,2],['O',375,770,2],['O',400,770,2],['O',425,768,2],['O',450,765,2],['O',475,768,2],['O',500,770,2],
['O',285,800,2],['O',310,800,2],['O',340,800,2],['O',365,803,2],['O',395,800,2],['O',425,800,2],['O',455,805,2],['O',480,800,2],['O',505,790,2],
['O',340,825,2],['O',385,825,2],['O',420,820,2],['O',465,830,2],['O',500,815,2],
['O',245,855,1],['O',295,850,1],['O',340,860,1],['O',415,860,2],['O',460,860,1],['O',395,910,1],['O',350,885,1],['O',310,880,1],
['O',595,550,2],['O',615,565,1],['O',640,555,2],['O',600,580,2],['O',625,585,2],['O',655,600,2],['O',630,610,2],['O',665,580,2],['O',620,630,1],['O',645,625,1],['O',595,350,1],['O',620,420,1],['O',615,470,1],['O',650,500,1],['O',690,435,1],['O',745,550,1],['O',730,590,1],['O',700,640,1],['O',650,690,1],['O',610,720,1],['O',580,770,1],['O',560,810,1],['O',520,855,1],['O',585,860,1],
['O',65,550,1],['O',95,520,1],['O',130,580,1],['O',155,520,1],['O',75,600,1],['O',100,640,1],['O',145,640,1],['O',185,635,1],['O',230,635,1],['O',105,685,1],['O',160,690,1],['O',205,720,1],['O',230,690,1],['O',125,730,1],['O',165,780,1],['O',190,740,1],['O',240,790,1],['O',250,830,1],['O',200,800,1],['O',150,740,1],['O',130,375,1],['O',170,580,1],['O',215,600,1],
['T',350,30,1],['T',400,45,1],['T',440,45,1],['T',475,60,1],['T',520,80,1],['T',555,100,1],['T',585,108,1],['T',615,125,1],['T',555,160,1],['T',600,180,1],['T',640,200,1],['T',680,215,1],['T',690,265,1],['T',710,245,1],['T',710,310,1],['T',730,330,1],['T',735,350,1],['T',745,400,1],['T',710,375,1],['T',715,440,1],['T',705,500,1],['T',660,240,1],['T',140,315,1],['T',60,495,1],['T',110,275,1],
['D',710,675,1],['D',700,715,1],['D',675,750,1],['D',655,790,1],['D',545,860,1]
];
const allBotNodes=[
['U',1030,215,2],['U',1060,225,2],['U',1090,230,2],['U',1125,235,2],['U',1000,250,2],['U',1030,260,3],['U',1055,262,3],['U',1080,265,3],['U',1110,268,3],['U',1140,270,3],['U',980,290,3],['U',1010,290,3],['U',1040,295,3],['U',1065,295,3],['U',1090,290,3],['U',1115,292,3],['U',1145,296,3],['U',1170,300,3],['U',980,325,3],['U',1005,325,3],['U',1030,325,3],['U',1055,322,3],['U',1080,322,3],['U',1105,322,3],['U',1130,322,3],['U',1155,325,3],['U',1180,330,3],['U',1000,360,3],['U',1025,355,3],['U',1050,355,3],['U',1075,355,3],['U',1100,355,3],['U',1125,355,3],['U',1150,355,3],['U',1175,362,3],['U',1200,365,3],['U',995,390,3],['U',1020,390,3],['U',1045,390,3],['U',1070,390,3],['U',1095,390,3],['U',1120,390,3],['U',1145,390,3],['U',1170,395,3],['U',1195,400,3],['U',1010,420,3],['U',1035,420,3],['U',1060,420,3],['U',1085,420,3],['U',1110,420,3],['U',1135,420,3],['U',1160,425,3],['U',1185,430,3],['U',1020,450,3],['U',1045,452,3],['U',1070,452,3],['U',1095,452,3],['U',1120,452,3],['U',1145,455,3],['U',1170,460,3],['U',1200,460,3],['U',1030,482,3],['U',1060,485,3],['U',1090,485,3],['U',1120,485,3],['U',1150,482,3],['U',1175,490,3],['U',1205,500,3],['U',1050,515,2],['U',1080,515,3],['U',1110,512,3],['U',1140,515,2],['U',1225,525,3],['U',1220,555,2],['U',1250,462,2],['U',1175,568,2],['U',1000,470,2],['U',990,520,2],['U',1030,545,2],['U',1055,575,2],['U',1085,570,2],['U',1115,560,2],['U',960,420,2],['U',975,360,2],['U',960,500,2],['U',965,550,2],
['U',1030,205,1],['U',1000,225,1],['U',985,260,1],['U',940,450,1],['U',905,305,1],['U',875,440,1],['U',880,570,1],['U',905,490,1],['U',935,545,1],['U',960,590,1],['U',940,620,1],['U',965,650,1],['U',1000,600,1],['U',1030,610,1],['U',1070,635,1],['U',1050,665,1],['U',995,680,1],['U',970,695,1],['U',940,745,1],['U',1000,745,1],['U',1040,760,1],['U',1085,750,1],['U',1110,800,1],['U',1140,780,1],['U',1160,830,1],['U',1180,860,1],['U',1200,885,1],['U',1225,910,1],['U',1165,900,1],['U',1130,880,1],['U',1100,905,1],['U',1070,870,1],['U',1045,850,1],['U',1140,580,1],['U',1110,600,1],['U',1045,80,1],['U',1060,165,1],['U',920,715,1],['U',1020,700,1],
['T',1215,120,2],['T',1250,105,1],['T',1300,105,2],['T',1360,95,1],['T',1200,150,2],['T',1235,150,2],['T',1265,135,2],['T',1290,135,2],['T',1315,130,2],['T',1345,145,2],['T',1370,150,2],['T',1240,180,2],['T',1260,175,2],['T',1285,180,2],['T',1310,170,2],['T',1340,180,2],['T',1175,200,2],['T',1200,195,2],['T',1225,205,2],['T',1255,200,3],['T',1280,210,3],['T',1300,215,3],['T',1325,210,3],['T',1355,210,2],['T',1170,225,3],['T',1195,228,3],['T',1240,230,3],['T',1270,235,3],['T',1300,228,3],['T',1330,222,3],['T',1360,232,2],['T',1180,255,2],['T',1210,252,2],['T',1245,260,2],['T',1275,258,3],['T',1305,250,2],['T',1220,290,2],['T',1250,290,2],['T',1290,295,2],['T',1270,330,2],['T',1305,320,2],['T',1140,140,1],['T',1165,170,1],['T',1380,180,1],['T',1395,240,1],['T',1420,270,1],['T',1400,370,1],['T',1420,440,1],
['O',1375,180,2],['O',1400,160,2],['O',1390,210,2],['O',1425,215,2],['O',1415,240,2],['O',1385,235,2],['O',1470,230,1],['O',1520,265,2],['O',1490,280,2],['O',1460,300,2],['O',1500,310,2],['O',1530,340,2],['O',1545,380,2],['O',1510,380,2],['O',1480,390,2],['O',1440,300,2],['O',1400,300,2],['O',1370,285,2],['O',1340,275,2],['O',1310,280,2],['O',1340,310,2],['O',1370,330,2],['O',1395,330,3],['O',1420,330,2],['O',1455,340,2],['O',1440,360,2],['O',1410,355,2],['O',1380,360,2],['O',1355,370,2],['O',1330,380,2],['O',1300,370,2],['O',1270,360,2],['O',1245,350,2],['O',1225,350,2],['O',1240,390,3],['O',1255,395,3],['O',1280,400,2],['O',1305,410,2],['O',1330,405,2],['O',1355,410,3],['O',1380,385,3],['O',1400,410,2],['O',1425,410,3],['O',1450,420,2],['O',1480,440,2],['O',1510,450,2],['O',1535,420,2],['O',1210,440,3],['O',1230,465,2],['O',1260,440,2],['O',1290,450,2],['O',1315,470,2],['O',1335,465,3],['O',1365,455,2],['O',1390,475,2],['O',1420,470,2],['O',1445,490,2],['O',1470,460,2],['O',1500,480,2],['O',1525,470,2],['O',1275,490,3],['O',1300,505,3],['O',1325,495,3],['O',1350,515,3],['O',1380,500,2],['O',1405,520,2],['O',1430,530,2],['O',1460,520,2],['O',1490,510,2],['O',1515,530,2],['O',1255,540,3],['O',1280,535,3],['O',1305,540,3],['O',1330,540,3],['O',1355,550,2],['O',1380,545,2],['O',1410,545,2],['O',1440,555,2],['O',1470,555,2],['O',1500,560,2],['O',1530,585,2],['O',1200,585,2],['O',1225,580,2],['O',1250,585,3],['O',1275,575,2],['O',1300,580,2],['O',1325,580,2],['O',1355,590,2],['O',1385,580,2],['O',1415,590,2],['O',1445,585,2],['O',1475,590,2],['O',1500,610,2],['O',1220,620,2],['O',1250,615,2],['O',1280,620,2],['O',1310,625,2],['O',1340,630,2],['O',1370,625,2],['O',1400,620,2],['O',1435,620,2],['O',1465,625,1],['O',1225,660,2],['O',1260,665,2],['O',1290,660,2],['O',1320,670,2],['O',1350,665,2],['O',1385,670,2],['O',1420,660,1],['O',1455,660,1],['O',1490,680,1],['O',1185,715,2],['O',1220,705,2],['O',1250,700,2],['O',1285,705,2],['O',1315,715,2],['O',1345,710,2],['O',1380,720,1],['O',1415,735,1],['O',1230,740,1],['O',1260,750,1],['O',1300,770,1],['O',1340,760,1],['O',1190,675,1],['O',1120,630,1],['O',1180,65,1],['O',1255,30,1],['O',1105,160,1],['O',1395,800,1],
['T',1440,470,1],['T',1410,450,1],['T',1450,700,1],['T',1470,750,1],['T',1420,780,1],['T',1380,795,1],['T',1360,760,1],['T',1400,740,1],['T',1330,800,1],['T',1270,750,1],['T',1290,790,1],['T',1320,880,1],['T',1235,880,1],['T',1470,650,1],['T',1455,600,1],['T',1270,655,1],['T',1115,865,1],['T',1200,800,1],
['D',1120,720,1],['D',1030,745,1],['D',975,770,1],['D',1005,785,1],['D',990,810,1],['D',1035,805,1],['D',1070,805,1],['D',1095,830,1],['D',1175,815,1]
];

// ---------------- STYLES ----------------
const pal = {
 m1:{C:'#B58BC3',S:'#E42A5C',P:'#1CB05A',B:'#83BD2C',R:'#0F2F18',L:'#EA4D7E',M:'#D8E9B8',X:'#EDE83B',K:'#F4963E',F:'#F5B4B2',E:'#A71F8E',I:'#5B8BCF',G:'#BDBDBD'},
 m2:{C:'#B98BC4',L:'#50C3E2',P:'#2EB277',S:'#EF6C7D',B:'#5BB536',E:'#7A40A0',R:'#2B0A22',K:'#F59C33',X:'#EDE84A',F:'#D4C41E',M:'#C0DF9D',H:'#F8CDBC',I:'#6789CC',N:'#BDBDBD',G:'#C8C8C8'},
 m3:{E:'#5F3B9B',C:'#AC76BC',D:'#F3D83B',P:'#1FAE76',L:'#7BCCE5',K:'#EE851F',R:'#0F331A',B:'#87BD2F',X:'#EEEC6B',S:'#EE6B79',Y:'#C4C4C4'},
 m4:{C:'#B68CC7',B:'#6DBA2A',L:'#2BB6EC',R:'#4A413B',K:'#F0841F',S:'#EA4B82',P:'#13AF8A',F:'#D7B4B4',X:'#E5E86D',E:'#6F3C9C',M:'#9ECF7D',D:'#FAD7AD',H:'#F5AAA6',G:'#BFBFBF'},
 all:{C:'#BA8DC9',E:'#773F9E',B:'#6CBB2E',P:'#22A84B',L:'#80CFDA',S:'#F190A2',K:'#F5B65A',R:'#300812',F:'#D5B11B',X:'#F2EE79',D:'#F8D38D',M:'#A4D692',H:'#F4AAAA',I:'#5B8BCF',G:'#C0C0C0'},
 mod:{U:'#1A6A9B',T:'#2BBBBE',O:'#F3B13A',D:'#E6443F',N:'#3F9E6D',V:'#7C70B5',W:'#E37BA5',G:'#BBBBBB'}
};
const SIZE_PX={1:1.8,2:3.1,3:4.8,4:7.5};
Chart.defaults.font.family='"Liberation Sans", Arial, sans-serif';

function rgba(hex,a){const n=parseInt(hex.slice(1),16);return 'rgba('+((n>>16)&255)+','+((n>>8)&255)+','+(n&255)+','+a+')';}
function mixWhite(hex,t){const n=parseInt(hex.slice(1),16);const f=c=>Math.round(c+(255-c)*t);return 'rgb('+f((n>>16)&255)+','+f((n>>8)&255)+','+f(n&255)+')';}

// faint links: each node joined to its nearest neighbours (positions from the library's points)
const linkPlugin={id:'links',beforeDatasetsDraw(chart,args,opts){
  const pts=chart.getDatasetMeta(0).data, cols=chart.data.datasets[0].pointBackgroundColor, ctx=chart.ctx, K=opts.k||5, A=opts.alpha||0.22;
  ctx.save();ctx.lineWidth=0.5;
  for(let i=0;i<pts.length;i++){
    const d=[];for(let j=0;j<pts.length;j++){if(j!==i){const dx=pts[i].x-pts[j].x,dy=pts[i].y-pts[j].y;d.push([dx*dx+dy*dy,j]);}}
    d.sort((a,b)=>a[0]-b[0]);
    ctx.strokeStyle=rgba(cols[i],A);
    ctx.beginPath();
    for(let k=0;k<K&&k<d.length;k++){const j=d[k][1];ctx.moveTo(pts[i].x,pts[i].y);ctx.lineTo(pts[j].x,pts[j].y);}
    ctx.stroke();
  }
  ctx.restore();
}};

function makeNet(nodes,bounds,box,palette,scale,k,alpha){
  const pad=10;const c=document.createElement('canvas');
  const w=Math.round(box[2]-box[0]+2*pad),h=Math.round(box[3]-box[1]+2*pad);
  c.width=w;c.height=h;c.style.left=(box[0]-pad)+'px';c.style.top=(box[1]-pad)+'px';c.style.width=w+'px';c.style.height=h+'px';
  document.body.appendChild(c);
  new Chart(c,{type:'scatter',
    data:{datasets:[{data:nodes.map(n=>({x:n[1],y:n[2]})),
      pointRadius:nodes.map(n=>SIZE_PX[n[3]]*scale),
      pointHoverRadius:nodes.map(n=>SIZE_PX[n[3]]*scale),
      pointBackgroundColor:nodes.map(n=>palette[n[0]]||'#bbbbbb'),
      pointBorderColor:nodes.map(n=>n[3]>=3?'rgba(60,60,60,0.55)':'rgba(0,0,0,0)'),
      pointBorderWidth:nodes.map(n=>n[3]>=3?0.6:0),
      clip:false}]},
    options:{responsive:false,animation:false,events:[],layout:{padding:pad},
      plugins:{legend:{display:false},tooltip:{enabled:false},links:{k:k,alpha:alpha}},
      scales:{x:{type:'linear',display:false,min:bounds[0],max:bounds[1]},
              y:{type:'linear',display:false,min:bounds[2],max:bounds[3],reverse:true}}},
    plugins:[linkPlugin]});
}

makeNet(m1TopNodes,[45,410,535,935],[28.1,302.9,256.3,529.4],pal.m1,1.05,5,0.22);
makeNet(m2TopNodes,[485,862,540,940],[303.1,305.8,538.8,532.3],pal.m2,1.05,5,0.22);
makeNet(m3TopNodes,[955,1390,505,975],[596.9,286,868.8,552.1],pal.m3,1.05,6,0.2);
makeNet(m4TopNodes,[38,779,15,948],[916,255,1227.9,566],pal.m4,1.0,9,0.18);
makeNet(allTopNodes,[877,1540,80,910],[1269.1,276.7,1548.1,553.3],pal.all,0.8,9,0.18);
makeNet(m1BotNodes,[15,405,1065,1495],[9.4,603.1,253.1,846.5],pal.mod,1.0,5,0.22);
makeNet(m2BotNodes,[485,870,1075,1500],[303.1,608.7,543.8,849.4],pal.mod,1.05,5,0.22);
makeNet(m3BotNodes,[968,1385,1060,1510],[605,600.2,865.6,855],pal.mod,1.05,7,0.2);
makeNet(m4BotNodes,[45,760,30,925],[918.9,585,1219.9,883.3],pal.mod,0.75,9,0.18);
makeNet(allBotNodes,[860,1559,42,924],[1262,589,1556.1,883],pal.mod,0.87,9,0.18);

// ---------------- LEGENDS ----------------
function makeLegend(names,pcts,keys,palette,s){
  const box=document.createElement('div');box.className='lg';
  box.style.left=s.box[0]+'px';box.style.top=s.box[1]+'px';box.style.width=(s.box[2]-s.box[0])+'px';box.style.height=(s.box[3]-s.box[1])+'px';
  document.body.appendChild(box);
  names.forEach((nm,i)=>{
    const cy=s.first+i*s.step;
    const sw=document.createElement('div');sw.className='sw';
    sw.style.left=s.sw[0]+'px';sw.style.width=s.sw[1]+'px';sw.style.height=s.sw[2]+'px';sw.style.top=(cy-s.sw[2]/2)+'px';sw.style.background=palette[keys[i]];
    document.body.appendChild(sw);
    [[nm,s.tx],['('+pcts[i]+'%)',s.px]].forEach(([t,x])=>{
      const e=document.createElement('div');e.className='tx';e.textContent=t;
      e.style.left=x+'px';e.style.top=(cy-s.step/2)+'px';e.style.height=s.step+'px';e.style.lineHeight=s.step+'px';e.style.fontSize=s.fs+'px';
      document.body.appendChild(e);
    });
  });
}
makeLegend(m1LegendNames,m1LegendPct,m1LegendKeys,pal.m1,{box:[57,48,241,290],sw:[59,15,15],tx:83,px:194,first:59.5,step:20.2,fs:14});
makeLegend(m2LegendNames,m2LegendPct,m2LegendKeys,pal.m2,{box:[325,24,520,291.5],sw:[329,15,15],tx:354,px:475,first:35.7,step:18.87,fs:14.5});
makeLegend(m3LegendNames,m3LegendPct,m3LegendKeys,pal.m3,{box:[631,45,841,277.5],sw:[634,17,17],tx:662.5,px:789,first:56.8,step:21.04,fs:16});
makeLegend(m4LegendNames,m4LegendPct,m4LegendKeys,pal.m4,{box:[984,10,1175,251],sw:[987,16,13],tx:1013,px:1125,first:24,step:16.95,fs:14.5});
makeLegend(allLegendNames,allLegendPct,allLegendKeys,pal.all,{box:[1311,12.5,1506,260],sw:[1313,15,14],tx:1338,px:1459,first:23.8,step:19.1,fs:14.5});

// ---------------- TABLE (panel B) ----------------
const rowColors=['#63C384','#FF555A','#FFB628','#008AEF','#63C384','#D6007B','#FFB628','#638EC6','#63C384','#FF555A','#FFB628','#008AEF'];
const colValues=[m1Metrics,m2Metrics,m3Metrics,m4Metrics];
const rowMax=metricNames.map((_,r)=>Math.max(...colValues.map(v=>v[r])));
const tc=document.createElement('canvas');
tc.width=396;tc.height=505;tc.style.left='1562px';tc.style.top='195px';tc.style.width='396px';tc.style.height='505px';
document.body.appendChild(tc);
function condText(ctx,t,x,y,sx){ctx.save();ctx.translate(x,y);ctx.scale(sx,1);ctx.fillText(t,0,0);ctx.restore();}
const tableDeco={id:'tableDeco',
  beforeDatasetsDraw(chart){
    const ctx=chart.ctx;ctx.save();
    chart.data.datasets.forEach((ds,i)=>{
      chart.getDatasetMeta(i).data.forEach((el,r)=>{
        const x0=Math.min(el.base,el.x),x1=Math.max(el.base,el.x),y0=el.y-el.height/2,h=el.height;
        if(!isFinite(x0)||!isFinite(x1))return;
        const col=rowColors[r];
        const g=ctx.createLinearGradient(x0,0,Math.max(x1,x0+1),0);
        g.addColorStop(0,col);g.addColorStop(0.12,col);g.addColorStop(1,mixWhite(col,0.82));
        ctx.fillStyle=g;ctx.fillRect(x0,y0,x1-x0,h);
        ctx.strokeStyle=mixWhite(col,0.25);ctx.lineWidth=1;ctx.strokeRect(x0+0.5,y0+0.5,Math.max(x1-x0-1,0.5),h-1);
      });
    });
    ctx.restore();
  },
  afterDatasetsDraw(chart){
    const ctx=chart.ctx,a=chart.chartArea,xs=chart.scales.x,ys=chart.scales.y;
    ctx.save();
    ctx.strokeStyle='#84C45A';ctx.lineWidth=2;
    [a.top-38,a.top,a.bottom].forEach(y=>{ctx.beginPath();ctx.moveTo(8,y);ctx.lineTo(chart.width-2,y);ctx.stroke();});
    ctx.fillStyle='#111';ctx.textBaseline='middle';
    ctx.textAlign='center';ctx.font='bold 17px "Liberation Sans", Arial, sans-serif';
    tableCols.forEach((c,i)=>condText(ctx,c,xs.getPixelForValue(i+0.5),a.top-18.5,0.88));
    ctx.textAlign='left';ctx.font='17.5px "Liberation Sans", Arial, sans-serif';
    metricNames.forEach((m,r)=>condText(ctx,m,11,ys.getPixelForValue(r)+1,0.86));
    ctx.textAlign='center';ctx.font='17.5px "Liberation Sans", Arial, sans-serif';ctx.fillStyle='#1a1a1a';
    colValues.forEach((vals,i)=>vals.forEach((v,r)=>condText(ctx,String(v),xs.getPixelForValue(i+0.5),ys.getPixelForValue(r)+1,0.86)));
    ctx.restore();
  }};
new Chart(tc,{type:'bar',
  data:{labels:metricNames,datasets:colValues.map((vals,i)=>({label:tableCols[i],
    data:vals.map((v,r)=>[i+0.006,i+0.006+v/rowMax[r]*0.975]),
    backgroundColor:'rgba(0,0,0,0)',borderWidth:0,
    barPercentage:0.94,categoryPercentage:1,grouped:false}))},
  options:{indexAxis:'y',responsive:false,animation:false,events:[],
    layout:{padding:{left:8,right:4,top:52.5,bottom:6}},
    plugins:{legend:{display:false},tooltip:{enabled:false}},
    scales:{x:{type:'linear',min:0,max:4,display:false},
      y:{type:'category',offset:true,grid:{display:false},border:{display:false},
        ticks:{display:false},afterFit(s){s.width=159;}}}},
  plugins:[tableDeco]});
</script>
</body></html>
